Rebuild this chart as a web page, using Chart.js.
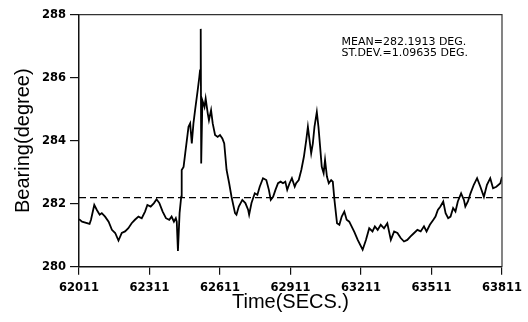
<!DOCTYPE html>
<html>
<head>
<meta charset="utf-8">
<script src="https://cdn.jsdelivr.net/npm/chart.js@4.4.1/dist/chart.umd.min.js"></script>
<style>
  html, body { margin: 0; padding: 0; background: #fff; }
  #wrap { width: 528px; height: 322px; }
</style>
</head>
<body>
<div id="wrap"><canvas id="c" width="528" height="322"></canvas></div>
<script>
// Bearing record, time in seconds
const timeSecs = [
  62011,62024,62056,62062,62076,62087,62099,62108,62122,62137,62151,62165,62179,62193,62207,62221,62235,62249,62264,62278,
  62292,62302,62316,62330,62341,62353,62367,62381,62395,62405,62415,62423,62427,62432,62439,62446,62448,62456,62463,62470,
  62477,62484,62491,62498,62505,62516,62523,62526,62529,62531,62536,62545,62550,62559,62564,62573,62580,62590,62601,62611,
  62621,62629,62639,62650,62660,62675,62681,62691,62706,62719,62731,62735,62745,62759,62770,62780,62794,62808,62819,62827,
  62837,62847,62858,62869,62879,62889,62897,62907,62917,62929,62935,62946,62957,62968,62978,62985,62992,62999,63006,63013,
  63023,63030,63037,63044,63052,63058,63066,63074,63084,63091,63098,63109,63119,63129,63140,63150,63161,63171,63183,63197,
  63218,63232,63246,63260,63270,63282,63295,63309,63323,63338,63352,63366,63380,63394,63408,63422,63437,63451,63465,63479,
  63490,63504,63519,63528,63538,63549,63561,63571,63582,63592,63603,63613,63623,63637,63649,63655,63666,63677,63691,63705,
  63719,63734,63747,63761,63773,63787,63804,63811
];
const bearingDeg = [
  281.51,281.43,281.36,281.49,281.96,281.80,281.65,281.70,281.59,281.43,281.17,281.07,280.83,281.07,281.12,281.22,281.38,281.49,281.59,281.54,
  281.75,281.96,281.91,282.02,282.14,282.02,281.75,281.54,281.49,281.59,281.43,281.54,281.43,280.50,281.70,282.22,283.07,283.17,283.60,284.02,
  284.44,284.55,283.91,284.55,284.97,285.60,286.02,286.23,287.55,283.28,285.28,285.07,285.34,284.86,284.65,284.97,284.55,284.18,284.12,284.18,
  284.07,283.91,283.07,282.65,282.22,281.70,281.65,281.91,282.12,282.02,281.80,281.65,282.02,282.33,282.28,282.54,282.81,282.75,282.44,282.12,
  282.22,282.44,282.65,282.70,282.65,282.70,282.44,282.65,282.81,282.54,282.65,282.75,283.07,283.49,284.02,284.44,284.02,283.60,283.91,284.44,
  284.91,284.44,283.81,283.17,282.97,283.39,282.86,282.65,282.75,282.70,282.12,281.38,281.33,281.59,281.75,281.49,281.43,281.28,281.10,280.85,
  280.54,280.85,281.22,281.12,281.28,281.17,281.33,281.22,281.38,280.85,281.12,281.07,280.91,280.80,280.85,280.96,281.07,281.17,281.12,281.28,
  281.12,281.33,281.49,281.59,281.80,281.91,282.07,281.70,281.54,281.59,281.86,281.75,282.07,282.33,282.12,281.91,282.07,282.33,282.60,282.81,
  282.54,282.22,282.60,282.81,282.49,282.54,282.65,282.85
];

const meanBearing = 282.1913;
const statLines = ['MEAN=282.1913 DEG.', 'ST.DEV.=1.09635 DEG.'];

const timeTicks = [62011, 62311, 62611, 62911, 63211, 63511, 63811];
const timeTickLabels = ['62011', '62311', '62611', '62911', '63211', '63511', '63811'];
const bearingTicks = [280, 282, 284, 286, 288];

const xTitle = 'Time(SECS.)';
const yTitle = 'Bearing(degree)';

const tMin = timeTicks[0], tMax = timeTicks[timeTicks.length - 1];

const seriesPoints = timeSecs.map((t, i) => ({ x: t, y: bearingDeg[i] }));
const meanPoints = [{ x: tMin, y: meanBearing }, { x: tMax, y: meanBearing }];

// Box round the plot area plus the statistics note
const framePlugin = {
  id: 'frameAndNote',
  afterDraw(chart) {
    const { ctx, chartArea: a } = chart;
    ctx.save();
    ctx.strokeStyle = '#333';
    ctx.lineWidth = 1.2;
    ctx.beginPath();
    ctx.moveTo(a.left, a.top);
    ctx.lineTo(a.right, a.top);
    ctx.lineTo(a.right, a.bottom);
    ctx.stroke();

    ctx.fillStyle = '#000';
    ctx.font = '11px "DejaVu Sans"';
    ctx.textAlign = 'left';
    ctx.textBaseline = 'middle';
    ctx.fillText(statLines[0], 341.5, 42);
    ctx.fillText(statLines[1], 341.5, 53);
    ctx.restore();
  }
};

new Chart(document.getElementById('c'), {
  type: 'line',
  data: {
    datasets: [
      {
        data: seriesPoints,
        borderColor: '#000',
        borderWidth: 1.8,
        pointRadius: 0,
        tension: 0,
        fill: false
      },
      {
        data: meanPoints,
        borderColor: '#000',
        borderWidth: 1.2,
        borderDash: [7, 4],
        pointRadius: 0,
        fill: false
      }
    ]
  },
  options: {
    responsive: false,
    animation: false,
    devicePixelRatio: 1,
    layout: { padding: { top: 14.7, right: 22.5, bottom: 0, left: 0 } },
    plugins: { legend: { display: false }, tooltip: { enabled: false } },
    scales: {
      x: {
        type: 'linear',
        min: tMin,
        max: tMax,
        afterBuildTicks: s => { s.ticks = timeTicks.map(v => ({ value: v })); },
        afterFit: s => { s.height = 55.3; },
        grid: { drawOnChartArea: false, drawTicks: true, tickLength: 8, color: '#111', lineWidth: 1.2 },
        border: { display: true, color: '#111', width: 1.5 },
        ticks: {
          padding: 6,
          maxRotation: 0,
          autoSkip: false,
          color: '#000',
          font: { family: '"DejaVu Sans"', size: 11.5, weight: 'bold' },
          callback: v => timeTickLabels[timeTicks.indexOf(v)]
        },
        title: {
          display: true,
          text: xTitle,
          color: '#000',
          font: { family: '"Liberation Sans", Arial', size: 20 },
          padding: { top: 0, bottom: 8 }
        }
      },
      y: {
        min: bearingTicks[0],
        max: bearingTicks[bearingTicks.length - 1],
        afterBuildTicks: s => { s.ticks = bearingTicks.map(v => ({ value: v })); },
        afterFit: s => { s.width = 79; },
        grid: { drawOnChartArea: false, drawTicks: true, tickLength: 9, color: '#111', lineWidth: 1.2 },
        border: { display: true, color: '#111', width: 1.5 },
        ticks: {
          padding: 4,
          color: '#000',
          font: { family: '"DejaVu Sans"', size: 11.5, weight: 'bold' },
          callback: v => String(v)
        },
        title: {
          display: true,
          text: yTitle,
          color: '#000',
          font: { family: '"Liberation Sans", Arial', size: 20 },
          padding: { top: 11, bottom: 0 }
        }
      }
    }
  },
  plugins: [framePlugin]
});
</script>
</body>
</html>
